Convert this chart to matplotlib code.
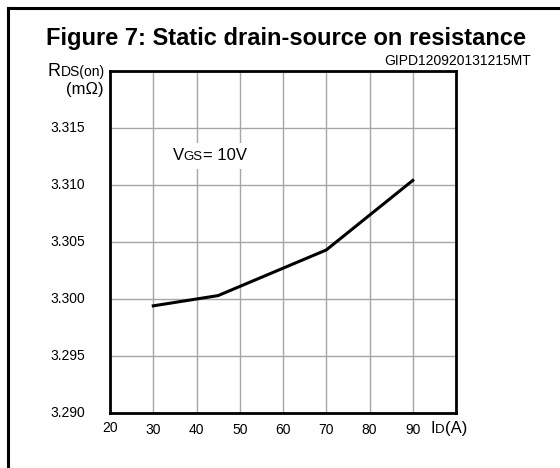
import matplotlib
matplotlib.use("Agg")
import matplotlib.pyplot as plt
from matplotlib.lines import Line2D

plt.rcParams['font.family'] = ['Liberation Sans', 'DejaVu Sans']

# data
id_a = [30, 45, 70, 90]
rds_on = [3.2994, 3.3003, 3.3043, 3.3104]
x_ticks = [20, 30, 40, 50, 60, 70, 80, 90]
y_ticks = [3.290, 3.295, 3.300, 3.305, 3.310, 3.315]

W, H = 560, 468
fig = plt.figure(figsize=(W / 100, H / 100), dpi=100)


def fx(px):
    return px / W


def fy(py):
    return 1 - py / H


ax = fig.add_axes([fx(110), fy(413), fx(456) - fx(110), fy(71) - fy(413)])
ax.set_xlim(20, 100)
ax.set_ylim(3.290, 3.320)
ax.set_xticks(list(range(20, 101, 10)))
ax.set_yticks([3.290 + 0.005 * i for i in range(7)])
ax.set_xticklabels([])
ax.set_yticklabels([])
ax.tick_params(length=0)
ax.grid(True, color='#a6a6a6', linewidth=1.0)
for s in ax.spines.values():
    s.set_linewidth(2.0)
    s.set_color('black')

ax.plot(id_a, rds_on, color='black', linewidth=2.2, solid_joinstyle='miter')

# tick labels
for v in x_ticks:
    dy = -11 if v == 20 else -12.5
    ax.annotate(str(v), (v, 3.290), xytext=(0, dy), textcoords='offset points',
                ha='center', va='center', fontsize=10)
for v in y_ticks:
    ax.annotate('%.3f' % v, (0, v), xycoords=('axes fraction', 'data'),
                xytext=(-18, 0), textcoords='offset points',
                ha='right', va='center', fontsize=10)

# title and code
fig.text(fx(285.5), fy(45), 'Figure 7: Static drain-source on resistance',
         ha='center', va='baseline', fontsize=17, fontweight='bold')
fig.text(fx(531), fy(65), 'GIPD120920131215MT', ha='right', va='baseline',
         fontsize=10)

fig.canvas.draw()
rend = fig.canvas.get_renderer()


def mixed(parts, x_right, y):
    # parts: list of (text, size); laid out right-to-left ending at x_right
    objs = []
    x = x_right
    for txt, size in reversed(parts):
        t = fig.text(fx(x), fy(y), txt, ha='right', va='baseline', fontsize=size)
        x -= t.get_window_extent(rend).width
        objs.append(t)
    return objs


# y-axis label
mixed([('R', 13), ('DS(on)', 10)], 105, 76)
fig.text(fx(104), fy(94), '(m\u03a9)', ha='right', va='baseline', fontsize=12)

# x-axis label
mixed([('I', 12), ('D', 9.5), ('(A)', 12)], 467, 433)

# VGS annotation with white box
ax.add_patch(plt.Rectangle((fx(165), fy(169)), fx(92), fy(143) - fy(169),
                           transform=fig.transFigure, facecolor='white',
                           edgecolor='none', zorder=3))
objs = mixed([('V', 12), ('GS', 9.5), ('= 10V', 12)], 247, 160)
for o in objs:
    o.set_zorder(4)

# outer frame lines
fig.add_artist(Line2D([fx(8), 1], [fy(8), fy(8)], color='black', linewidth=2.2,
                      transform=fig.transFigure))
fig.add_artist(Line2D([fx(8), fx(8)], [fy(8), 0], color='black', linewidth=2.2,
                      transform=fig.transFigure))

fig.savefig('out.png', dpi=100)
